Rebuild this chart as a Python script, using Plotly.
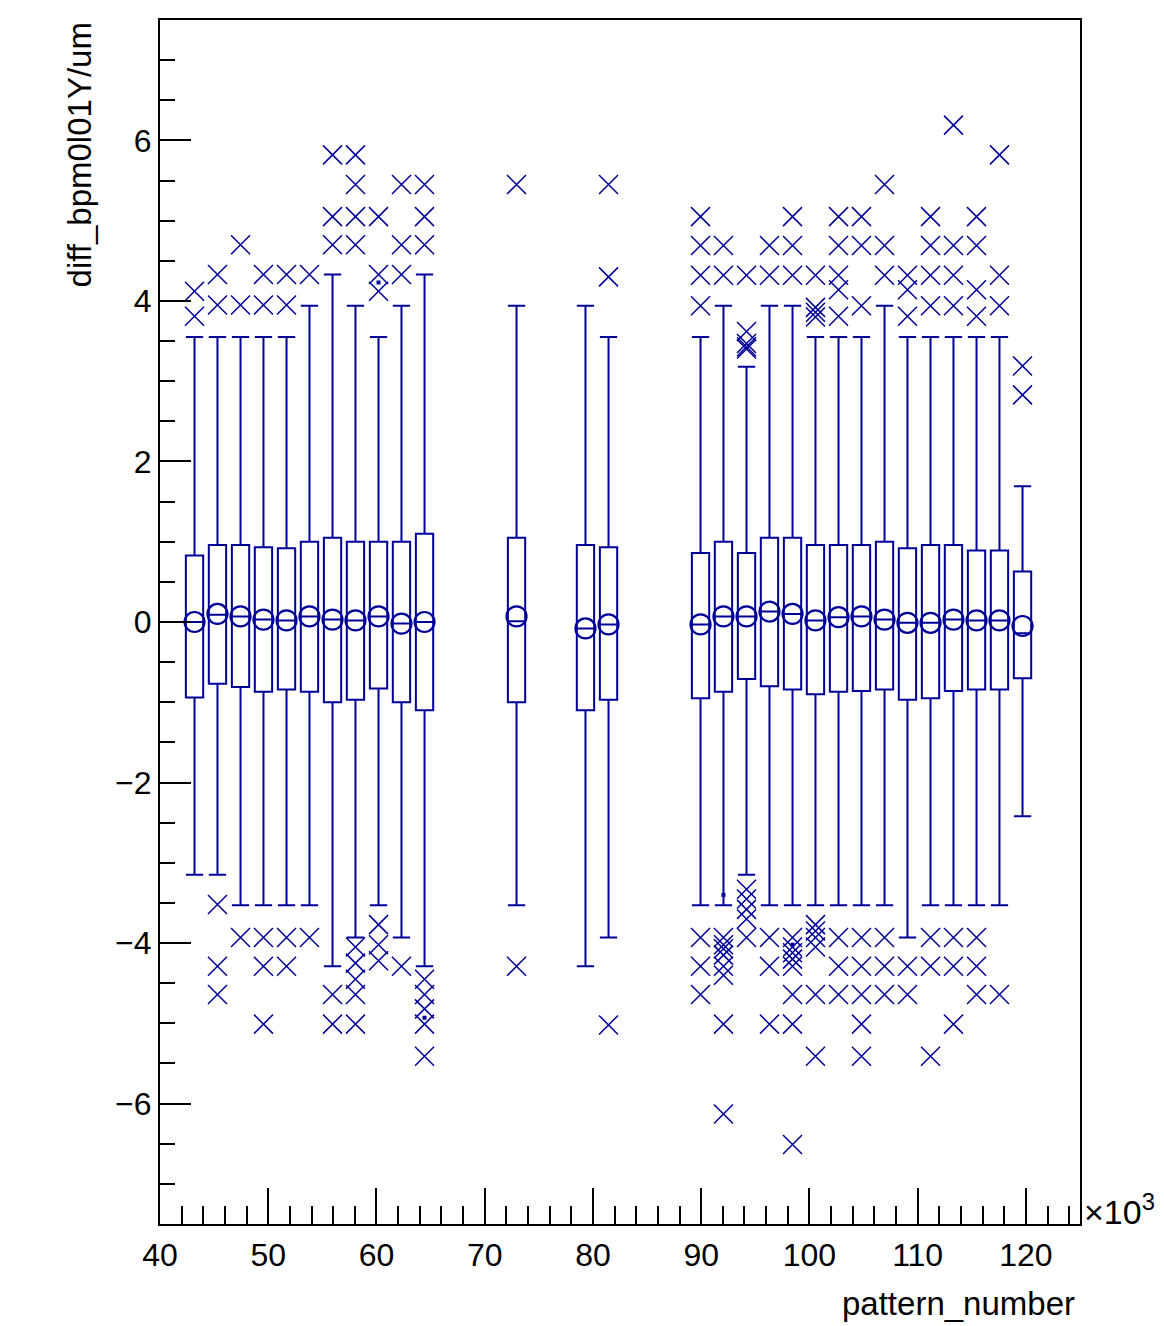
import plotly.graph_objects as go

# ---- data (pattern_number in units of 10^3) ----
pattern_k = [43.19, 45.31, 47.44, 49.56, 51.69, 53.81, 55.94, 58.06, 60.19, 62.31, 64.44,
             72.94, 79.31, 81.44,
             89.94, 92.06, 94.19, 96.31, 98.44, 100.56, 102.69, 104.81, 106.94, 109.06,
             111.19, 113.31, 115.44, 117.56, 119.69]

q1 = [-0.94, -0.77, -0.81, -0.87, -0.84, -0.87, -1.00, -0.97, -0.83, -1.00, -1.10,
      -1.00, -1.10, -0.97,
      -0.95, -0.87, -0.71, -0.80, -0.84, -0.90, -0.87, -0.86, -0.84, -0.97,
      -0.95, -0.86, -0.84, -0.84, -0.70]
median = [0.00, 0.09, 0.07, 0.03, 0.02, 0.07, 0.03, 0.02, 0.07, -0.02, 0.00,
          0.01, -0.08, -0.03,
          -0.03, 0.07, 0.07, 0.13, 0.10, 0.02, 0.06, 0.07, 0.03, -0.01,
          -0.01, 0.03, 0.02, 0.02, -0.14]
mean = [0.00, 0.10, 0.07, 0.03, 0.02, 0.07, 0.03, 0.02, 0.07, -0.02, 0.00,
        0.07, -0.08, -0.03,
        -0.03, 0.07, 0.07, 0.13, 0.10, 0.02, 0.06, 0.07, 0.03, -0.01,
        -0.01, 0.03, 0.02, 0.02, -0.05]
q3 = [0.83, 0.96, 0.96, 0.93, 0.92, 1.00, 1.05, 1.00, 1.00, 1.00, 1.10,
      1.05, 0.96, 0.93,
      0.86, 1.00, 0.86, 1.05, 1.05, 0.96, 0.96, 0.96, 1.00, 0.92,
      0.96, 0.96, 0.89, 0.89, 0.63]
whisker_low = [-3.15, -3.15, -3.53, -3.53, -3.53, -3.53, -4.29, -3.93, -3.53, -3.93, -4.29,
               -3.53, -4.29, -3.93,
               -3.53, -3.53, -3.15, -3.53, -3.53, -3.53, -3.53, -3.53, -3.53, -3.93,
               -3.53, -3.53, -3.53, -3.53, -2.42]
whisker_high = [3.55, 3.55, 3.55, 3.55, 3.55, 3.94, 4.33, 3.94, 3.55, 3.94, 4.33,
                3.94, 3.94, 3.55,
                3.55, 3.94, 3.18, 3.94, 3.94, 3.55, 3.55, 3.55, 3.94, 3.55,
                3.55, 3.55, 3.55, 3.55, 1.69]

outliers_high = [
    [4.12, 3.81], [4.33, 3.95], [4.70, 3.95], [4.33, 3.95], [4.33, 3.95], [4.33],
    [5.82, 5.05, 4.70], [5.82, 5.45, 5.05, 4.70], [5.05, 4.33, 4.12],
    [5.45, 4.70, 4.33], [5.45, 5.05, 4.70],
    [5.45], [], [5.45, 4.30],
    [5.05, 4.69, 4.32, 3.94], [4.69, 4.32], [4.32, 3.62, 3.47, 3.43, 3.40],
    [4.69, 4.32], [5.05, 4.69, 4.32], [4.32, 3.92, 3.86, 3.80],
    [5.05, 4.69, 4.32, 4.14, 3.81], [5.05, 4.69, 3.94], [5.45, 4.69, 4.32],
    [4.32, 4.14, 3.81], [5.05, 4.69, 4.32, 3.94], [6.19, 4.69, 4.32, 3.94],
    [5.05, 4.69, 4.14, 3.81], [5.82, 4.32, 3.94], [3.19, 2.83],
]
outliers_low = [
    [], [-3.52, -4.29, -4.64], [-3.93], [-3.93, -4.29, -5.01], [-3.93, -4.29], [-3.93],
    [-4.64, -5.01], [-4.05, -4.25, -4.45, -4.64, -5.01], [-3.77, -4.02, -4.22],
    [-4.29], [-4.45, -4.64, -4.82, -5.01, -5.41],
    [-4.29], [], [-5.02],
    [-3.93, -4.29, -4.64], [-3.93, -4.02, -4.07, -4.15, -4.29, -4.40, -5.01, -6.13],
    [-3.33, -3.45, -3.58, -3.70, -3.93], [-3.93, -4.29, -5.01],
    [-3.93, -4.05, -4.12, -4.20, -4.29, -4.64, -5.01, -6.51],
    [-3.77, -3.85, -3.93, -4.05, -4.64, -5.41], [-3.93, -4.29, -4.64],
    [-3.93, -4.29, -4.64, -5.01, -5.41], [-3.93, -4.29, -4.64], [-4.29, -4.64],
    [-3.93, -4.29, -5.41], [-3.93, -4.29, -5.01], [-3.93, -4.29, -4.64], [-4.64], [],
]
dots_x = [60.19, 64.44, 92.06, 98.44]
dots_y = [4.23, -4.93, -3.40, -4.02]

x_ticks = [40, 50, 60, 70, 80, 90, 100, 110, 120]
y_ticks = [-6, -4, -2, 0, 2, 4, 6]

BLUE = "#000099"
FONT = "Liberation Sans, Arial, Helvetica, sans-serif"

out_x, out_y = [], []
for xv, hi, lo in zip(pattern_k, outliers_high, outliers_low):
    for v in hi + lo:
        out_x.append(xv)
        out_y.append(v)

fig = go.Figure()
fig.add_trace(go.Box(
    x=pattern_k, q1=q1, median=median, q3=q3,
    lowerfence=whisker_low, upperfence=whisker_high,
    boxpoints=False, width=1.6, whiskerwidth=1.0,
    line=dict(color=BLUE, width=2), fillcolor="rgba(0,0,0,0)",
    showlegend=False, hoverinfo="skip",
))
fig.add_trace(go.Scatter(
    x=pattern_k, y=mean, mode="markers",
    marker=dict(symbol="circle-open", size=20, color=BLUE, line=dict(width=2.2, color=BLUE)),
    showlegend=False, hoverinfo="skip",
))
fig.add_trace(go.Scatter(
    x=out_x, y=out_y, mode="markers",
    marker=dict(symbol="x-thin-open", size=19, color=BLUE, line=dict(width=1.5, color=BLUE)),
    showlegend=False, hoverinfo="skip",
))
fig.add_trace(go.Scatter(
    x=dots_x, y=dots_y, mode="markers",
    marker=dict(symbol="square", size=4, color=BLUE),
    showlegend=False, hoverinfo="skip",
))

fig.update_layout(
    width=1164, height=1326,
    margin=dict(l=160, r=84, t=20, b=102),
    paper_bgcolor="white", plot_bgcolor="white",
    font=dict(family=FONT, size=32, color="black"),
    boxmode="overlay",
)
fig.update_xaxes(
    range=[40, 125], tickvals=x_ticks, ticktext=[str(t) for t in x_ticks],
    ticks="inside", ticklen=36, tickwidth=1.5, tickcolor="black",
    minor=dict(dtick=2, tick0=40, ticks="inside", ticklen=18, tickwidth=1.5, tickcolor="black"),
    showline=True, linecolor="black", linewidth=2, mirror=True,
    showgrid=False, zeroline=False, ticklabelstandoff=2,
    tickfont=dict(size=32), automargin=False,
)
fig.update_yaxes(
    range=[-7.5, 7.5], tickvals=y_ticks, ticktext=[str(t).replace("-", "\u2212") for t in y_ticks],
    ticks="inside", ticklen=31, tickwidth=1.5, tickcolor="black",
    minor=dict(dtick=0.5, tick0=0, ticks="inside", ticklen=15, tickwidth=1.5, tickcolor="black"),
    showline=True, linecolor="black", linewidth=2, mirror=True,
    showgrid=False, zeroline=False,
    tickfont=dict(size=32), automargin=False,
)
fig.add_annotation(text="diff_bpm0l01Y/um", xref="paper", yref="paper",
                   x=-0.087, y=1.0, xanchor="center", yanchor="top",
                   textangle=-90, showarrow=False, font=dict(size=33))
fig.add_annotation(text="pattern_number", xref="paper", yref="paper",
                   x=0.997, y=-0.066, xanchor="right", yanchor="middle",
                   showarrow=False, font=dict(size=33))
fig.add_annotation(text="\u00d710<sup>3</sup>", xref="paper", yref="paper",
                   x=1.002, y=0.012, xanchor="left", yanchor="middle",
                   showarrow=False, font=dict(size=34))

fig.write_html("out.html", config={"displayModeBar": False},
               post_script="document.body.style.margin='0';document.body.style.overflow='hidden';")
